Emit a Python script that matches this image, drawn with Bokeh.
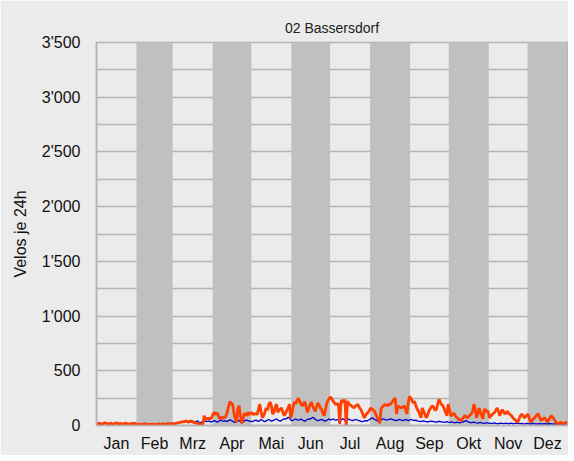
from bokeh.plotting import figure
from bokeh.models import FixedTicker, Range1d
from bokeh.embed import file_html
from bokeh.resources import INLINE

title_text = "02 Bassersdorf"
y_label = "Velos je 24h"
months = ["Jan", "Feb", "Mrz", "Apr", "Mai", "Jun", "Jul", "Aug", "Sep", "Okt", "Nov", "Dez"]
month_days = [31, 28, 31, 30, 31, 30, 31, 31, 30, 31, 30, 31]
y_ticks = [0, 500, 1000, 1500, 2000, 2500, 3000, 3500]
y_tick_labels = ["0", "500", "1'000", "1'500", "2'000", "2'500", "3'000", "3'500"]

red_by_month = [
    [20,18,22,15,12,18,25,20,17,15,22,19,14,12,20,24,18,16,21,15,13,19,22,17,14,12,18,20,16,21,15],
    [12,10,14,9,8,12,15,10,9,11,8,7,13,10,12,9,8,14,11,10,15,12,9,13,16,11,14,18],
    [15,18,20,22,25,28,30,35,32,38,40,35,30,42,38,33,28,25,20,18,15,12,10,14,90,60,55,70,60,65,75],
    [110,120,100,115,90,60,75,65,80,70,95,130,180,220,200,195,115,60,30,150,180,90,20,60,110,105,90,120,100,115],
    [115,100,105,110,100,150,195,130,70,90,120,160,140,190,215,180,105,120,170,195,120,140,150,160,120,90,110,140,160,195,70],
    [110,180,215,200,230,250,220,195,180,200,215,170,120,160,190,215,180,150,130,170,205,190,160,145,110,90,150,205,230,250],
    [260,240,220,205,190,200,193,20,222,230,210,237,0,222,200,190,180,170,160,175,185,193,170,150,130,100,70,90,110,120,140],
    [160,150,140,130,100,70,60,20,150,170,180,193,185,180,195,190,205,220,240,250,105,180,170,165,160,170,180,150,105,200,267],
    [250,230,205,222,180,150,130,100,70,160,130,100,70,90,130,150,170,180,160,140,150,200,240,210,190,180,150,120,90,195],
    [150,90,95,110,105,80,70,60,50,45,60,75,90,80,70,85,95,105,130,195,150,70,110,160,120,90,60,150,140,130,130],
    [70,85,100,110,120,140,160,130,90,120,145,125,105,115,130,110,100,90,75,60,50,40,30,60,90,105,90,70,80,95],
    [105,60,30,45,60,70,85,100,105,70,45,55,65,70,50,30,50,75,90,75,60,40,25,15,20,30,25,20,15,25,35],
]

blue_by_month = [
    [15,18,20,16,12,17,22,19,16,14,20,18,13,12,19,22,17,15,20,16,14,18,21,17,15,13,18,20,17,19,16],
    [14,16,18,15,12,17,19,16,15,17,14,13,18,16,17,15,14,19,17,16,20,18,15,19,21,17,20,22],
    [20,22,25,28,24,30,35,32,28,35,38,40,33,30,36,40,35,30,38,42,28,25,30,35,45,40,35,38,42,30,35],
    [40,45,38,30,35,45,50,42,38,44,40,35,48,52,45,40,30,28,35,42,45,38,25,30,40,48,50,45,40,38],
    [35,40,45,50,42,38,45,55,48,40,35,42,50,55,48,40,45,50,55,60,50,45,40,48,55,62,58,65,75,70,50],
    [45,50,55,60,52,48,55,58,50,45,40,48,55,60,58,65,75,70,55,50,45,48,52,55,50,45,40,48,55,58],
    [50,55,60,52,48,55,50,15,55,60,58,50,10,55,58,52,48,45,50,55,52,48,45,40,35,38,42,45,40,48,55],
    [60,70,65,55,50,45,40,30,55,60,58,55,50,52,55,58,60,55,50,48,45,50,55,52,48,45,50,55,52,45,50],
    [55,52,48,45,50,42,40,38,35,40,42,38,35,32,35,38,40,38,35,32,30,35,38,36,33,30,28,32,35,30],
    [28,30,32,28,25,28,30,26,24,28,30,35,40,45,35,30,28,25,28,30,26,24,22,25,28,24,22,20,22,25,23],
    [22,20,18,22,24,20,18,16,20,22,19,17,20,22,18,16,19,21,18,16,20,22,19,17,18,20,17,15,18,20],
    [18,16,15,18,20,17,15,14,16,18,15,14,16,17,15,13,16,18,15,14,12,14,16,13,12,14,15,13,12,14,15],
]

starts = []
acc = 0
for d in month_days:
    starts.append(acc)
    acc += d
ends = [s + d for s, d in zip(starts, month_days)]
mids = [(s + e) / 2 for s, e in zip(starts, ends)]

def flatten(series):
    xs, ys = [], []
    for m, vals in enumerate(series):
        for i, v in enumerate(vals[:month_days[m]]):
            xs.append(starts[m] + i + 0.5)
            ys.append(v)
    return xs, ys

rx, ry = flatten(red_by_month)
bx, by = flatten(blue_by_month)

BG = "#ebebeb"
GRID = "#b4b4b4"
FONT = "Liberation Sans"

p = figure(width=568, height=455, output_backend="svg", toolbar_location=None,
           x_range=Range1d(0, 365), y_range=Range1d(0, 3500),
           min_border_left=96, min_border_right=1, min_border_top=42, min_border_bottom=30,
           background_fill_color=BG, border_fill_color=BG)

p.title.text = title_text
p.title.align = "center"
p.title.text_font = FONT
p.title.text_font_size = "14px"
p.title.text_font_style = "normal"
p.title.text_color = "#222222"
p.title.standoff = 13

p.outline_line_color = GRID
p.outline_line_width = 1.5

gs = [starts[i] for i in range(12) if i % 2 == 1]
ge = [ends[i] for i in range(12) if i % 2 == 1]
p.quad(left=gs, right=ge, bottom=0, top=3500, fill_color="#c0c0c0", line_color=None)

p.line(bx, by, line_color="#0000cc", line_width=1.3)
p.line(rx, ry, line_color="#ff4000", line_width=2.8)

p.xgrid.visible = False
p.ygrid.ticker = FixedTicker(ticks=list(range(0, 3751, 250)))
p.ygrid.grid_line_color = GRID
p.ygrid.grid_line_width = 1.5

p.yaxis.ticker = FixedTicker(ticks=y_ticks)
p.yaxis.major_label_overrides = {t: l for t, l in zip(y_ticks, y_tick_labels)}
p.yaxis.axis_label = y_label
p.xaxis.ticker = FixedTicker(ticks=mids)
p.xaxis.major_label_overrides = {m: l for m, l in zip(mids, months)}

for ax in (p.xaxis[0], p.yaxis[0]):
    ax.axis_line_color = GRID
    ax.axis_line_width = 1.5
    ax.major_tick_line_color = None
    ax.minor_tick_line_color = None
    ax.major_tick_out = 0
    ax.major_tick_in = 0
    ax.minor_tick_out = 0
    ax.major_label_text_font = FONT
    ax.major_label_text_font_size = "16px"
    ax.major_label_text_color = "#111111"

p.yaxis.major_label_standoff = 16
p.xaxis.major_label_standoff = 9
p.yaxis.axis_label_text_font = FONT
p.yaxis.axis_label_text_font_size = "16px"
p.yaxis.axis_label_text_font_style = "normal"
p.yaxis.axis_label_text_color = "#111111"
p.yaxis.axis_label_standoff = 10

open("out.html", "w").write(file_html(p, INLINE))
